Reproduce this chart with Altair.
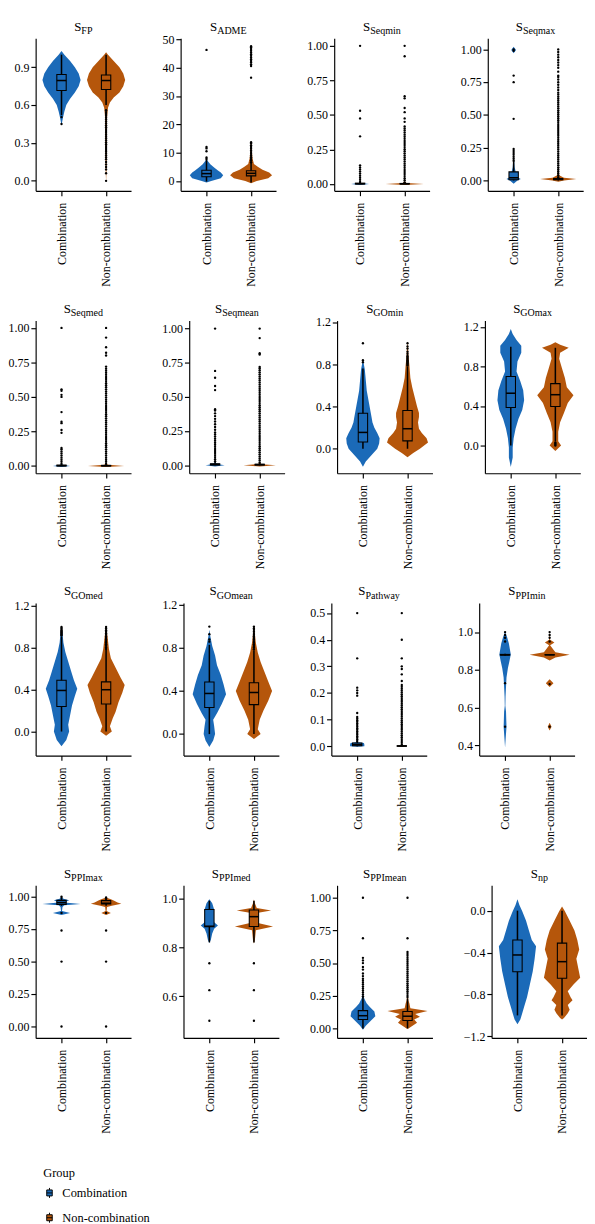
import altair as alt
import pandas as pd

GROUPS = ["Combination", "Non-combination"]
COLORS = ["#1B6AB8", "#B5560B"]
FONT = "Liberation Serif"

# ---------------- S_FP ----------------
FP_DOMAIN = [-0.08, 1.13]
FP_TICKS = [0.0, 0.3, 0.6, 0.9]
FP_C_Y = [0.44, 0.5, 0.55, 0.6, 0.65, 0.7, 0.75, 0.8, 0.85, 0.9, 0.95, 1.0, 1.03]
FP_C_W = [0, 1.5, 3, 5, 9, 14, 18, 20, 18, 14, 9, 3, 0]
FP_N_Y = [-0.01, 0.1, 0.3, 0.5, 0.58, 0.62, 0.66, 0.7, 0.75, 0.8, 0.85, 0.9, 0.95, 1.0, 1.02]
FP_N_W = [0, 0.5, 0.8, 1, 2, 4, 8, 14, 18, 20, 18, 14, 8, 2, 0]
FP_C_BOX = [0.52, 0.716, 0.795, 0.843, 1.0]
FP_N_BOX = [0.60, 0.724, 0.795, 0.838, 1.0]
FP_C_OUT = [0.505, 0.45]
FP_N_OUT = [0.56, 0.545, 0.53, 0.515, 0.50, 0.485, 0.47, 0.455, 0.44, 0.425, 0.41, 0.395,
            0.38, 0.365, 0.35, 0.335, 0.32, 0.305, 0.29, 0.275, 0.26, 0.245, 0.23, 0.215,
            0.20, 0.185, 0.17, 0.15, 0.13, 0.11, 0.09, 0.06, 0.0]

# ---------------- S_ADME ----------------
ADME_DOMAIN = [-3.5, 50.4]
ADME_TICKS = [0, 10, 20, 30, 40, 50]
ADME_C_Y = [-0.5, 0, 1, 2, 3, 3.7, 4.8, 5.9, 7.0, 7.8]
ADME_C_W = [0, 5, 15, 17.5, 15, 12, 8, 4, 1.5, 0]
ADME_N_Y = [-0.8, 0, 1, 2, 3, 4, 5, 6, 8, 10, 13, 14]
ADME_N_W = [0, 6, 18, 22, 19, 12, 7, 3, 1.5, 1, 0.5, 0]
ADME_C_BOX = [-0.2, 1.5, 2.6, 3.8, 7.5]
ADME_N_BOX = [-0.5, 1.8, 2.7, 3.6, 6.5]
ADME_C_OUT = [7.8, 8.3, 10.5, 11.5, 12.0, 46.3]
ADME_N_OUT = [6.6, 7.2, 7.8, 8.4, 9.0, 9.6, 10.2, 10.8, 11.4, 12.0, 12.6, 13.2, 13.7, 36.5,
              40.6, 41.2, 41.8, 42.4, 43.0, 43.6, 44.2, 44.8, 45.4, 46.0, 46.6, 47.2, 47.6]

# ---------------- S_Seqmin ----------------
SQMIN_DOMAIN = [-0.05, 1.055]
SQMIN_TICKS = [0.0, 0.25, 0.5, 0.75, 1.0]
SQMIN_C_Y = [-0.008, 0.0, 0.008, 0.02]
SQMIN_C_W = [0, 9.5, 1, 0]
SQMIN_N_Y = [-0.008, 0.0, 0.008, 0.02]
SQMIN_N_W = [0, 20, 2, 0]
SQMIN_C_BOX = [0.0, 0.0, 0.002, 0.006, 0.012]
SQMIN_N_BOX = [0.0, 0.0, 0.001, 0.004, 0.01]
SQMIN_C_OUT = [0.015, 0.03, 0.045, 0.06, 0.075, 0.09, 0.105, 0.12, 0.135, 0.345, 0.475, 0.53, 1.0]
SQMIN_N_OUT = [0.012, 0.027, 0.042, 0.057, 0.072, 0.087, 0.102, 0.117, 0.132, 0.147, 0.162,
               0.177, 0.192, 0.207, 0.222, 0.237, 0.252, 0.267, 0.282, 0.297, 0.312, 0.327,
               0.342, 0.357, 0.372, 0.387, 0.402, 0.417, 0.45, 0.475, 0.52, 0.55, 0.62, 0.635,
               0.925, 1.0]

# ---------------- S_Seqmax ----------------
SQMAX_DOMAIN = [-0.08, 1.085]
SQMAX_TICKS = [0.0, 0.25, 0.5, 0.75, 1.0]
SQMAX_C_Y = [-0.025, 0.0, 0.01, 0.02, 0.04, 0.07, 0.1, 0.15, 0.2, 0.97, 0.995, 1.02]
SQMAX_C_W = [0, 4, 7.5, 5, 3, 2, 1, 0.5, 0, 0, 2.5, 0]
SQMAX_N_Y = [-0.01, 0.0, 0.01, 0.02, 0.04, 0.1]
SQMAX_N_W = [0, 6, 19, 6, 1, 0]
SQMAX_C_BOX = [0.0, 0.005, 0.02, 0.065, 0.146]
SQMAX_N_BOX = [0.0, 0.005, 0.01, 0.015, 0.025]
SQMAX_C_OUT = [0.15, 0.165, 0.18, 0.195, 0.21, 0.225, 0.24, 0.47, 0.75, 0.80, 0.99, 1.0]
SQMAX_N_OUT = [0.025, 0.04, 0.055, 0.07, 0.085, 0.10, 0.115, 0.13, 0.145, 0.16, 0.175, 0.19,
               0.205, 0.22, 0.235, 0.25, 0.265, 0.28, 0.295, 0.31, 0.325, 0.34, 0.355, 0.37,
               0.385, 0.40, 0.415, 0.43, 0.445, 0.46, 0.475, 0.49, 0.505, 0.52, 0.535, 0.55,
               0.565, 0.58, 0.595, 0.61, 0.625, 0.64, 0.655, 0.67, 0.69, 0.71, 0.73, 0.75,
               0.77, 0.79, 0.80, 0.83, 0.86, 0.88, 0.90, 0.92, 0.94, 0.96, 0.98, 1.0]

# ---------------- S_Seqmed ----------------
SQMED_DOMAIN = [-0.053, 1.053]
SQMED_TICKS = [0.0, 0.25, 0.5, 0.75, 1.0]
SQMED_C_Y = [-0.008, 0.0, 0.008, 0.02]
SQMED_C_W = [0, 9, 1, 0]
SQMED_N_Y = [-0.008, 0.0, 0.008, 0.02]
SQMED_N_W = [0, 19, 2, 0]
SQMED_C_BOX = [0.0, 0.0, 0.002, 0.006, 0.012]
SQMED_N_BOX = [0.0, 0.0, 0.001, 0.004, 0.01]
SQMED_C_OUT = [0.015, 0.03, 0.045, 0.06, 0.075, 0.09, 0.105, 0.12, 0.13, 0.24, 0.26, 0.31,
               0.32, 0.39, 0.50, 0.515, 0.545, 0.555, 1.0]
SQMED_N_OUT = [0.015, 0.03, 0.045, 0.06, 0.075, 0.09, 0.105, 0.12, 0.135, 0.15, 0.165, 0.18,
               0.195, 0.21, 0.225, 0.24, 0.255, 0.27, 0.285, 0.30, 0.315, 0.33, 0.345, 0.36,
               0.375, 0.39, 0.405, 0.42, 0.435, 0.45, 0.465, 0.48, 0.495, 0.51, 0.525, 0.54,
               0.555, 0.57, 0.585, 0.60, 0.615, 0.63, 0.645, 0.66, 0.675, 0.69, 0.705, 0.72,
               0.80, 0.82, 0.86, 0.93, 1.0]

# ---------------- S_Seqmean ----------------
SQMEAN_DOMAIN = [-0.058, 1.058]
SQMEAN_TICKS = [0.0, 0.25, 0.5, 0.75, 1.0]
SQMEAN_C_Y = [-0.008, 0.0, 0.01, 0.025]
SQMEAN_C_W = [0, 10, 2, 0]
SQMEAN_N_Y = [-0.008, 0.0, 0.008, 0.02]
SQMEAN_N_W = [0, 17, 2, 0]
SQMEAN_C_BOX = [0.0, 0.002, 0.006, 0.012, 0.025]
SQMEAN_N_BOX = [0.0, 0.002, 0.005, 0.008, 0.015]
SQMEAN_C_OUT = [0.03, 0.045, 0.06, 0.075, 0.09, 0.105, 0.12, 0.135, 0.15, 0.165, 0.18, 0.195,
                0.21, 0.225, 0.24, 0.26, 0.28, 0.30, 0.32, 0.34, 0.36, 0.38, 0.40, 0.41,
                0.55, 0.58, 0.64, 0.69, 1.0]
SQMEAN_N_OUT = [0.02, 0.035, 0.05, 0.065, 0.08, 0.095, 0.11, 0.125, 0.14, 0.155, 0.17, 0.185,
                0.20, 0.215, 0.23, 0.245, 0.26, 0.275, 0.29, 0.305, 0.32, 0.335, 0.35, 0.365,
                0.38, 0.395, 0.41, 0.425, 0.44, 0.455, 0.47, 0.485, 0.50, 0.515, 0.53, 0.545,
                0.56, 0.575, 0.59, 0.605, 0.62, 0.635, 0.65, 0.665, 0.68, 0.695, 0.71, 0.72,
                0.81, 0.82, 0.93, 1.0]

# ---------------- S_GOmin ----------------
GOMIN_DOMAIN = [-0.232, 1.215]
GOMIN_TICKS = [0.0, 0.4, 0.8, 1.2]
GOMIN_C_Y = [-0.17, -0.12, -0.08, -0.04, 0.0, 0.05, 0.1, 0.15, 0.2, 0.25, 0.3, 0.35, 0.4, 0.45,
             0.5, 0.55, 0.6, 0.65, 0.7, 0.75, 0.8, 0.84]
GOMIN_C_W = [0, 3, 7, 11, 15, 17, 17.5, 15, 12, 10, 9, 8, 7, 6, 5, 4, 3.5, 3, 2.5, 2, 1, 0]
GOMIN_N_Y = [-0.08, -0.04, 0.0, 0.06, 0.1, 0.15, 0.19, 0.25, 0.3, 0.34, 0.4, 0.49, 0.58, 0.67,
             0.79, 0.88, 0.95, 1.02]
GOMIN_N_W = [0, 6, 13, 21.5, 20, 15, 12, 11, 12, 12, 10, 7.5, 5, 3, 2, 1, 0.6, 0]
GOMIN_C_BOX = [0.0, 0.064, 0.155, 0.336, 0.76]
GOMIN_N_BOX = [0.0, 0.075, 0.19, 0.362, 0.78]
GOMIN_C_OUT = [0.82, 0.84, 1.0]
GOMIN_N_OUT = [0.79, 0.80, 0.81, 0.82, 0.83, 0.84, 0.85, 0.86, 0.87, 0.88, 0.90, 0.92, 0.95,
               0.97, 1.0]

# ---------------- S_GOmax ----------------
GOMAX_DOMAIN = [-0.28, 1.265]
GOMAX_TICKS = [0.0, 0.4, 0.8, 1.2]
GOMAX_C_Y = [-0.216, -0.12, -0.02, 0.074, 0.17, 0.27, 0.36, 0.46, 0.56, 0.65, 0.75, 0.85, 0.94,
             1.01, 1.07, 1.13, 1.18]
GOMAX_C_W = [0, 2, 2, 3, 5, 8, 12, 14, 13, 10, 6, 7, 11, 11, 6, 2, 0]
GOMAX_N_Y = [-0.055, 0.0, 0.045, 0.14, 0.235, 0.33, 0.43, 0.51, 0.59, 0.685, 0.78, 0.88, 0.94,
             0.99, 1.02, 1.045]
GOMAX_N_W = [0, 6, 3, 3, 5, 9, 13, 19, 12, 10, 7, 4, 5, 14, 5, 0]
GOMAX_C_BOX = [0.0, 0.386, 0.53, 0.70, 1.0]
GOMAX_N_BOX = [0.04, 0.396, 0.515, 0.627, 0.99]
GOMAX_C_OUT = []
GOMAX_N_OUT = [0.0, 0.01, 0.02, 0.03]

# ---------------- S_GOmed ----------------
GOMED_DOMAIN = [-0.23, 1.23]
GOMED_TICKS = [0.0, 0.4, 0.8, 1.2]
GOMED_C_Y = [-0.14, -0.08, 0.0, 0.066, 0.157, 0.25, 0.34, 0.41, 0.49, 0.58, 0.67, 0.76, 0.85,
             0.94, 1.0]
GOMED_C_W = [0, 5, 8, 7, 9, 11, 14, 16.5, 13, 10, 7, 4, 2, 1, 0]
GOMED_N_Y = [-0.04, 0.0, 0.05, 0.126, 0.19, 0.28, 0.37, 0.445, 0.52, 0.61, 0.7, 0.79, 0.91, 1.0]
GOMED_N_W = [0, 6, 4, 7, 10, 13, 17, 19.5, 15, 10, 5, 3, 1.5, 0]
GOMED_C_BOX = [0.0, 0.24, 0.393, 0.49, 0.91]
GOMED_N_BOX = [0.0, 0.263, 0.40, 0.475, 0.78]
GOMED_C_OUT = [0.92, 0.93, 0.94, 0.95, 0.96, 0.97, 0.98, 0.99, 1.0]
GOMED_N_OUT = [0.79, 0.805, 0.82, 0.835, 0.85, 0.865, 0.88, 0.895, 0.91, 0.925, 0.94, 0.955,
               0.97, 0.985, 1.0]

# ---------------- S_GOmean ----------------
GOMEAN_DOMAIN = [-0.2, 1.22]
GOMEAN_TICKS = [0.0, 0.4, 0.8, 1.2]
GOMEAN_C_Y = [-0.12, -0.06, 0.0, 0.075, 0.134, 0.193, 0.28, 0.37, 0.46, 0.55, 0.64, 0.73, 0.82,
              0.91, 0.97]
GOMEAN_C_W = [0, 4, 6, 5, 4, 8, 13, 17.5, 15, 12, 8, 6, 3, 1, 0]
GOMEAN_N_Y = [-0.045, 0.0, 0.045, 0.134, 0.22, 0.31, 0.40, 0.49, 0.58, 0.67, 0.76, 0.85, 0.97,
              1.0]
GOMEAN_N_W = [0, 7, 4, 6, 10, 15, 19, 15, 11, 7, 4, 2, 0.5, 0]
GOMEAN_C_BOX = [0.0, 0.247, 0.378, 0.485, 0.83]
GOMEAN_N_BOX = [0.0, 0.274, 0.387, 0.477, 0.78]
GOMEAN_C_OUT = [0.86, 0.88, 0.93, 1.0]
GOMEAN_N_OUT = [0.79, 0.805, 0.82, 0.835, 0.85, 0.865, 0.88, 0.895, 0.91, 0.925, 0.94, 0.955,
                0.97, 0.985, 1.0]

# ---------------- S_Pathway ----------------
PATH_DOMAIN = [-0.035, 0.538]
PATH_TICKS = [0.0, 0.1, 0.2, 0.3, 0.4, 0.5]
PATH_C_Y = [-0.002, 0.0, 0.006, 0.012, 0.016]
PATH_C_W = [0, 7.5, 7.5, 7, 0]
PATH_N_Y = [-0.003, 0.0, 0.004, 0.01]
PATH_N_W = [0, 3, 1, 0]
PATH_C_BOX = [0.0, 0.002, 0.006, 0.012, 0.02]
PATH_N_BOX = [0.0, 0.0, 0.001, 0.002, 0.004]
PATH_C_OUT = [0.02, 0.026, 0.032, 0.038, 0.044, 0.05, 0.056, 0.062, 0.068, 0.074, 0.08, 0.086,
              0.092, 0.098, 0.104, 0.11, 0.125, 0.19, 0.20, 0.21, 0.22, 0.33, 0.50]
PATH_N_OUT = [0.006, 0.013, 0.02, 0.027, 0.034, 0.041, 0.048, 0.055, 0.062, 0.069, 0.076, 0.083,
              0.09, 0.097, 0.104, 0.111, 0.118, 0.125, 0.132, 0.139, 0.146, 0.153, 0.16, 0.167,
              0.174, 0.181, 0.188, 0.195, 0.202, 0.209, 0.216, 0.223, 0.23, 0.245, 0.27, 0.29,
              0.30, 0.33, 0.40, 0.50]

# ---------------- S_PPImin ----------------
PPIMIN_DOMAIN = [0.347, 1.154]
PPIMIN_TICKS = [0.4, 0.6, 0.8, 1.0]
PPIMIN_C_Y = [0.39, 0.443, 0.5, 0.53, 0.58, 0.61, 0.66, 0.71, 0.76, 0.81, 0.845, 0.881, 0.911,
              0.94, 0.975, 1.0]
PPIMIN_C_W = [0, 0.7, 1.5, 1.3, 1, 0.3, 0.5, 1, 1.5, 3, 4.5, 6, 5, 4, 2, 0]
PPIMIN_N_Y = [0.48, 0.5, 0.52, 0.6, 0.71, 0.73, 0.75, 0.85, 0.866, 0.88, 0.894, 0.93, 0.945,
              0.96, 1.0]
PPIMIN_N_W = [0, 2, 0, 0, 0, 4, 0, 0, 6, 21, 6, 0.5, 5, 0.5, 0]
PPIMIN_C_BOX = [0.875, 0.878, 0.88, 0.882, 0.885]
PPIMIN_N_BOX = [0.878, 0.879, 0.88, 0.881, 0.882]
PPIMIN_C_OUT = [0.5, 0.73, 0.95, 0.97, 0.985, 1.0]
PPIMIN_N_OUT = [0.5, 0.725, 0.95, 0.97, 0.985, 1.0]

# ---------------- S_PPImax ----------------
PPIMAX_DOMAIN = [-0.088, 1.088]
PPIMAX_TICKS = [0.0, 0.25, 0.5, 0.75, 1.0]
PPIMAX_C_Y = [0.86, 0.875, 0.89, 0.92, 0.935, 0.944, 0.955, 0.972, 0.985, 1.0]
PPIMAX_C_W = [0, 9, 0.5, 1, 3, 20, 3, 8, 2, 0]
PPIMAX_N_Y = [0.86, 0.875, 0.89, 0.92, 0.93, 0.945, 0.955, 0.97, 0.98, 0.995]
PPIMAX_N_W = [0, 5, 0.5, 1, 6, 16, 12, 8, 5, 0]
PPIMAX_C_BOX = [0.93, 0.941, 0.955, 0.972, 1.0]
PPIMAX_N_BOX = [0.93, 0.945, 0.95, 0.97, 0.995]
PPIMAX_C_OUT = [0.0, 0.5, 0.74, 0.875, 1.0]
PPIMAX_N_OUT = [0.0, 0.5, 0.74, 0.875, 0.985, 0.995]

# ---------------- S_PPImed ----------------
PPIMED_DOMAIN = [0.43, 1.053]
PPIMED_TICKS = [0.6, 0.8, 1.0]
PPIMED_C_Y = [0.817, 0.83, 0.856, 0.876, 0.889, 0.902, 0.928, 0.954, 0.98, 0.996]
PPIMED_C_W = [0, 1.5, 3, 5, 9, 5, 4, 5, 3, 0]
PPIMED_N_Y = [0.815, 0.83, 0.87, 0.885, 0.9, 0.92, 0.94, 0.95, 0.96, 0.98, 0.995]
PPIMED_N_W = [0, 1, 2, 20, 3, 5, 3, 18, 3, 1, 0]
PPIMED_C_BOX = [0.82, 0.884, 0.886, 0.954, 0.99]
PPIMED_N_BOX = [0.82, 0.885, 0.925, 0.952, 0.99]
PPIMED_C_OUT = [0.5, 0.625, 0.735]
PPIMED_N_OUT = [0.5, 0.625, 0.735]

# ---------------- S_PPImean ----------------
PPIMEAN_DOMAIN = [-0.073, 1.095]
PPIMEAN_TICKS = [0.0, 0.25, 0.5, 0.75, 1.0]
PPIMEAN_C_Y = [-0.01, 0.02, 0.056, 0.093, 0.13, 0.166, 0.19, 0.226, 0.26]
PPIMEAN_C_W = [0, 3, 8, 13, 12, 7, 4, 1.5, 0]
PPIMEAN_N_Y = [-0.005, 0.0, 0.044, 0.068, 0.09, 0.11, 0.133, 0.154, 0.19, 0.214, 0.26]
PPIMEAN_N_W = [0, 1, 10, 7, 13, 8, 21, 3, 2, 1, 0]
PPIMEAN_C_BOX = [0.0, 0.068, 0.097, 0.136, 0.24]
PPIMEAN_N_BOX = [0.0, 0.06, 0.093, 0.13, 0.23]
PPIMEAN_C_OUT = [0.245, 0.26, 0.275, 0.29, 0.305, 0.32, 0.335, 0.35, 0.365, 0.38, 0.40, 0.42,
                 0.45, 0.47, 0.50, 0.52, 0.54, 0.69, 1.0]
PPIMEAN_N_OUT = [0.24, 0.255, 0.27, 0.285, 0.30, 0.315, 0.33, 0.345, 0.36, 0.375, 0.39, 0.405,
                 0.42, 0.435, 0.45, 0.465, 0.48, 0.495, 0.51, 0.525, 0.54, 0.555, 0.57, 0.585,
                 0.69, 1.0]

# ---------------- S_np ----------------
NP_DOMAIN = [-1.215, 0.242]
NP_TICKS = [-1.2, -0.8, -0.4, 0.0]
NP_C_Y = [0.109, 0.055, -0.006, -0.097, -0.19, -0.28, -0.34, -0.46, -0.58, -0.705, -0.826,
          -0.917, -0.98, -1.04, -1.085]
NP_C_W = [0, 2, 5, 9, 12, 15, 19.5, 18, 16, 13, 10, 7, 5, 3, 0]
NP_N_Y = [0.04, -0.006, -0.097, -0.19, -0.28, -0.37, -0.46, -0.55, -0.64, -0.705, -0.77, -0.826,
          -0.856, -0.9, -0.947, -0.98, -1.025, -1.04]
NP_N_W = [0, 3, 8, 13, 16, 18, 15, 17, 19, 12, 6, 9, 11, 6, 8, 6, 2, 0]
NP_C_BOX = [-1.0, -0.584, -0.423, -0.28, 0.0]
NP_N_BOX = [-1.0, -0.645, -0.487, -0.31, 0.0]
NP_C_OUT = []
NP_N_OUT = []

PANELS = [
    ("FP", FP_DOMAIN, FP_TICKS, ".1f", FP_C_Y, FP_C_W, FP_N_Y, FP_N_W, FP_C_BOX, FP_N_BOX, FP_C_OUT, FP_N_OUT),
    ("ADME", ADME_DOMAIN, ADME_TICKS, "d", ADME_C_Y, ADME_C_W, ADME_N_Y, ADME_N_W, ADME_C_BOX, ADME_N_BOX, ADME_C_OUT, ADME_N_OUT),
    ("Seqmin", SQMIN_DOMAIN, SQMIN_TICKS, ".2f", SQMIN_C_Y, SQMIN_C_W, SQMIN_N_Y, SQMIN_N_W, SQMIN_C_BOX, SQMIN_N_BOX, SQMIN_C_OUT, SQMIN_N_OUT),
    ("Seqmax", SQMAX_DOMAIN, SQMAX_TICKS, ".2f", SQMAX_C_Y, SQMAX_C_W, SQMAX_N_Y, SQMAX_N_W, SQMAX_C_BOX, SQMAX_N_BOX, SQMAX_C_OUT, SQMAX_N_OUT),
    ("Seqmed", SQMED_DOMAIN, SQMED_TICKS, ".2f", SQMED_C_Y, SQMED_C_W, SQMED_N_Y, SQMED_N_W, SQMED_C_BOX, SQMED_N_BOX, SQMED_C_OUT, SQMED_N_OUT),
    ("Seqmean", SQMEAN_DOMAIN, SQMEAN_TICKS, ".2f", SQMEAN_C_Y, SQMEAN_C_W, SQMEAN_N_Y, SQMEAN_N_W, SQMEAN_C_BOX, SQMEAN_N_BOX, SQMEAN_C_OUT, SQMEAN_N_OUT),
    ("GOmin", GOMIN_DOMAIN, GOMIN_TICKS, ".1f", GOMIN_C_Y, GOMIN_C_W, GOMIN_N_Y, GOMIN_N_W, GOMIN_C_BOX, GOMIN_N_BOX, GOMIN_C_OUT, GOMIN_N_OUT),
    ("GOmax", GOMAX_DOMAIN, GOMAX_TICKS, ".1f", GOMAX_C_Y, GOMAX_C_W, GOMAX_N_Y, GOMAX_N_W, GOMAX_C_BOX, GOMAX_N_BOX, GOMAX_C_OUT, GOMAX_N_OUT),
    ("GOmed", GOMED_DOMAIN, GOMED_TICKS, ".1f", GOMED_C_Y, GOMED_C_W, GOMED_N_Y, GOMED_N_W, GOMED_C_BOX, GOMED_N_BOX, GOMED_C_OUT, GOMED_N_OUT),
    ("GOmean", GOMEAN_DOMAIN, GOMEAN_TICKS, ".1f", GOMEAN_C_Y, GOMEAN_C_W, GOMEAN_N_Y, GOMEAN_N_W, GOMEAN_C_BOX, GOMEAN_N_BOX, GOMEAN_C_OUT, GOMEAN_N_OUT),
    ("Pathway", PATH_DOMAIN, PATH_TICKS, ".1f", PATH_C_Y, PATH_C_W, PATH_N_Y, PATH_N_W, PATH_C_BOX, PATH_N_BOX, PATH_C_OUT, PATH_N_OUT),
    ("PPImin", PPIMIN_DOMAIN, PPIMIN_TICKS, ".1f", PPIMIN_C_Y, PPIMIN_C_W, PPIMIN_N_Y, PPIMIN_N_W, PPIMIN_C_BOX, PPIMIN_N_BOX, PPIMIN_C_OUT, PPIMIN_N_OUT),
    ("PPImax", PPIMAX_DOMAIN, PPIMAX_TICKS, ".2f", PPIMAX_C_Y, PPIMAX_C_W, PPIMAX_N_Y, PPIMAX_N_W, PPIMAX_C_BOX, PPIMAX_N_BOX, PPIMAX_C_OUT, PPIMAX_N_OUT),
    ("PPImed", PPIMED_DOMAIN, PPIMED_TICKS, ".1f", PPIMED_C_Y, PPIMED_C_W, PPIMED_N_Y, PPIMED_N_W, PPIMED_C_BOX, PPIMED_N_BOX, PPIMED_C_OUT, PPIMED_N_OUT),
    ("PPImean", PPIMEAN_DOMAIN, PPIMEAN_TICKS, ".2f", PPIMEAN_C_Y, PPIMEAN_C_W, PPIMEAN_N_Y, PPIMEAN_N_W, PPIMEAN_C_BOX, PPIMEAN_N_BOX, PPIMEAN_C_OUT, PPIMEAN_N_OUT),
    ("np", NP_DOMAIN, NP_TICKS, ".1f", NP_C_Y, NP_C_W, NP_N_Y, NP_N_W, NP_C_BOX, NP_N_BOX, NP_C_OUT, NP_N_OUT),
]

# ---------------- layout / style ----------------
W, H = 100, 160
X_DOMAIN = [0.42, 2.56]
V_SCALE = 0.0214      # violin density units -> x units
BOX_HALF = 0.105
TW = {"A": .722, "D": .722, "E": .611, "F": .556, "G": .722, "I": .333, "M": .889, "O": .722,
      "P": .556, "S": .556, "a": .444, "d": .5, "e": .444, "h": .5, "i": .278, "l": .278,
      "m": .778, "n": .5, "p": .5, "q": .5, "t": .278, "w": .722, "x": .5, "y": .5}
S_SIZE, SUB_SIZE = 13.5, 10.5

LEGEND_PATH = "M-0.55,-0.6H0.55V0.6H-0.55Z M-0.55,0H0.55 M0,-0.6V-1 M0,0.6V1"

cscale = alt.Scale(domain=GROUPS, range=COLORS)
legend = alt.Legend(
    title="Group", orient="bottom", direction="vertical", offset=27, padding=8,
    symbolType=LEGEND_PATH, symbolSize=110, symbolStrokeColor="black",
    symbolStrokeWidth=1, symbolOpacity=1, titleFont=FONT, titleFontSize=13,
    titleFontWeight="normal", titleColor="black", labelFont=FONT, labelFontSize=13,
    labelColor="black", rowPadding=11, titlePadding=7, labelOffset=7,
)


def text_width(s, size):
    return sum(TW.get(c, 0.5) for c in s) * size


def make_panel(sub, dom, ticks, fmt, cy, cw, ny, nw, cbox, nbox, cout, nout):
    vdf = pd.DataFrame({
        "group": [GROUPS[0]] * len(cy) + [GROUPS[1]] * len(ny),
        "pos": [1] * len(cy) + [2] * len(ny),
        "val": cy + ny,
        "w": cw + nw,
    }).sort_values(["group", "val"]).reset_index(drop=True)
    bdf = pd.DataFrame({
        "group": GROUPS, "pos": [1, 2],
        "lo": [cbox[0], nbox[0]], "q1": [cbox[1], nbox[1]], "med": [cbox[2], nbox[2]],
        "q3": [cbox[3], nbox[3]], "hi": [cbox[4], nbox[4]],
    })
    odf = pd.DataFrame({"pos": [1] * len(cout) + [2] * len(nout), "v": cout + nout})

    xs = alt.Scale(domain=X_DOMAIN, nice=False, zero=False)
    ys = alt.Scale(domain=dom, nice=False, zero=False)
    xaxis = alt.Axis(values=[1, 2], title=None, grid=False, labelAngle=-90,
                     labelExpr="datum.value == 1 ? 'Combination' : 'Non-combination'")
    yaxis = alt.Axis(values=ticks, format=fmt, title=None, grid=False)

    violin = alt.Chart(vdf).transform_calculate(
        xl=f"datum.pos - datum.w * {V_SCALE}", xr=f"datum.pos + datum.w * {V_SCALE}"
    ).mark_area(orient="horizontal", opacity=1, interpolate="linear").encode(
        y=alt.Y("val:Q", scale=ys, axis=yaxis),
        x=alt.X("xl:Q", scale=xs, axis=xaxis, stack=None), x2="xr:Q",
        color=alt.Color("group:N", scale=cscale, legend=legend),
    )
    whisk = alt.Chart(bdf).mark_rule(color="black", strokeWidth=1.6).encode(
        x=alt.X("pos:Q", scale=xs, axis=xaxis),
        y=alt.Y("lo:Q", scale=ys, axis=yaxis), y2="hi:Q",
    )
    box = alt.Chart(bdf).transform_calculate(
        bl=f"datum.pos - {BOX_HALF}", br=f"datum.pos + {BOX_HALF}"
    ).mark_rect(stroke="black", strokeWidth=1.1, opacity=1).encode(
        x=alt.X("bl:Q", scale=xs, axis=xaxis), x2="br:Q",
        y=alt.Y("q1:Q", scale=ys, axis=yaxis), y2="q3:Q",
        color=alt.Color("group:N", scale=cscale, legend=legend),
    )
    med = alt.Chart(bdf).transform_calculate(
        bl=f"datum.pos - {BOX_HALF}", br=f"datum.pos + {BOX_HALF}"
    ).mark_rule(color="black", strokeWidth=1.6).encode(
        x=alt.X("bl:Q", scale=xs, axis=xaxis), x2="br:Q",
        y=alt.Y("med:Q", scale=ys, axis=yaxis),
    )
    layers = [violin, whisk, box, med]
    if len(odf):
        pts = alt.Chart(odf).mark_circle(color="black", size=6, opacity=1).encode(
            x=alt.X("pos:Q", scale=xs, axis=xaxis),
            y=alt.Y("v:Q", scale=ys, axis=yaxis),
        )
        layers.append(pts)

    ws = text_width("S", S_SIZE)
    wsub = text_width(sub, SUB_SIZE)
    x0 = W / 2 - (ws + wsub) / 2
    t_s = alt.Chart(pd.DataFrame({"t": ["S"]})).mark_text(
        align="left", baseline="alphabetic", font=FONT, fontSize=S_SIZE, color="black"
    ).encode(x=alt.value(x0), y=alt.value(-8), text="t:N")
    t_sub = alt.Chart(pd.DataFrame({"t": [sub]})).mark_text(
        align="left", baseline="alphabetic", font=FONT, fontSize=SUB_SIZE, color="black"
    ).encode(x=alt.value(x0 + ws), y=alt.value(-4.5), text="t:N")
    layers += [t_s, t_sub]
    return alt.layer(*layers).properties(width=W, height=H)


rows = []
for r in range(4):
    panels = [make_panel(*PANELS[r * 4 + c]) for c in range(4)]
    rows.append(alt.hconcat(*panels, spacing=32))

chart = alt.vconcat(*rows, spacing=16).configure_view(stroke=None).configure_axis(
    domainColor="black", domainWidth=1.2, tickColor="black", tickWidth=1.2, tickSize=5,
    labelColor="black", labelFont=FONT, grid=False,
).configure_axisY(labelFontSize=12.5, labelPadding=2).configure_axisX(
    labelFontSize=12.5, labelPadding=7
).properties(
    background="white",
    padding={"left": 0, "top": -18, "right": 0, "bottom": 18},
)

chart.save("out.html", embed_options={"renderer": "svg", "actions": False})
